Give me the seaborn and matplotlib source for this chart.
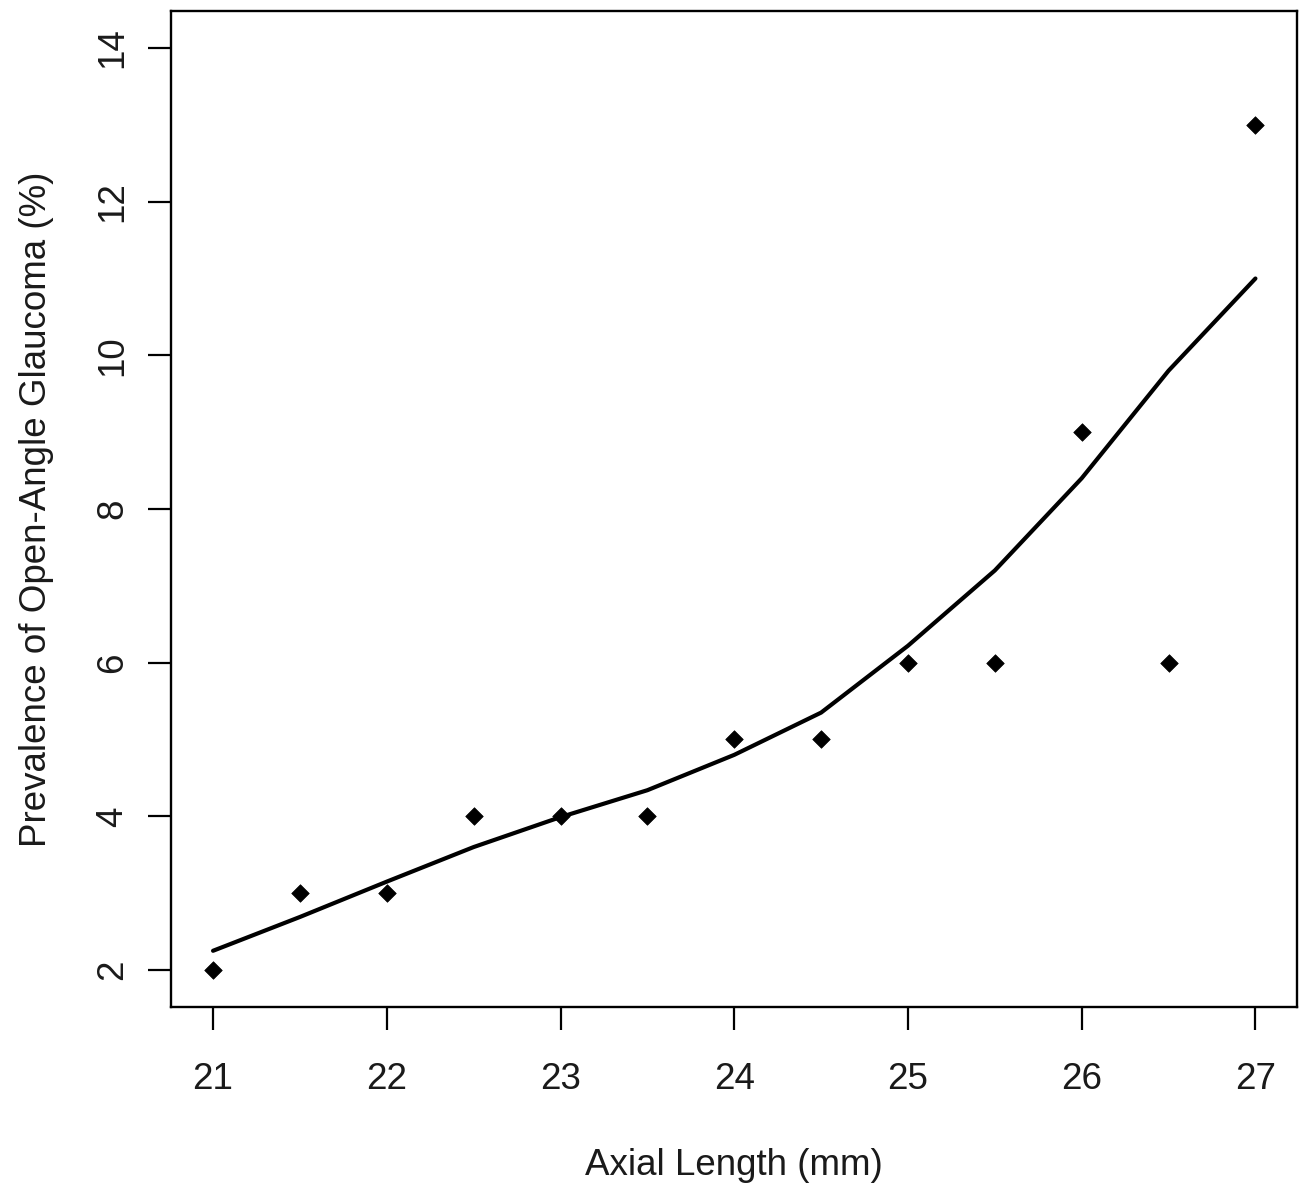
import matplotlib
matplotlib.use("Agg")
import matplotlib.pyplot as plt
import pandas as pd
import seaborn as sns

# Observed prevalence by axial length
axial_length = [21, 21.5, 22, 22.5, 23, 23.5, 24, 24.5, 25, 25.5, 26, 26.5, 27]
prevalence = [2, 3, 3, 4, 4, 4, 5, 5, 6, 6, 9, 6, 13]
# Smoothed curve
smooth = [2.25, 2.69, 3.15, 3.6, 3.99, 4.34, 4.8, 5.35, 6.22, 7.2, 8.4, 9.8, 11.0]

x_ticks = [21, 22, 23, 24, 25, 26, 27]
y_ticks = [2, 4, 6, 8, 10, 12, 14]

df = pd.DataFrame({"Axial Length (mm)": axial_length,
                   "Prevalence": prevalence,
                   "Smooth": smooth})

sns.set_theme(style="ticks")
plt.rcParams["font.family"] = ["Liberation Sans", "DejaVu Sans"]

fig = plt.figure(figsize=(13.06, 11.84), dpi=100)
ax = fig.add_axes([0.1312, 0.1496, 0.862, 0.841])

sns.lineplot(data=df, x="Axial Length (mm)", y="Smooth", ax=ax,
             color="black", linewidth=3.0)
sns.scatterplot(data=df, x="Axial Length (mm)", y="Prevalence", ax=ax,
                marker="D", s=80, color="black", edgecolor="black", linewidth=0.5)

# R-style 4% padding around the ranges
ax.set_xlim(21 - 0.24, 27 + 0.24)
ax.set_ylim(2 - 0.48, 14 + 0.48)
ax.set_xticks(x_ticks)
ax.set_yticks(y_ticks)
ax.set_xticklabels([str(v) for v in x_ticks])
ax.set_yticklabels([str(v) for v in y_ticks], rotation=90, va="center")

for side in ["top", "right", "bottom", "left"]:
    ax.spines[side].set_visible(True)
    ax.spines[side].set_linewidth(1.7)
    ax.spines[side].set_color("black")

ax.tick_params(axis="both", direction="out", length=16.5, width=1.6,
               colors="black", labelsize=26.5, labelcolor="#1a1a1a")
ax.tick_params(axis="x", pad=23)
ax.tick_params(axis="y", pad=13)

ax.set_xlabel("Axial Length (mm)", fontsize=26.5, color="#1a1a1a", labelpad=37)
ax.set_ylabel("Prevalence of Open-Angle Glaucoma (%)", fontsize=26.5,
              color="#1a1a1a", labelpad=30)

fig.savefig("out.png", dpi=100, facecolor="white")
